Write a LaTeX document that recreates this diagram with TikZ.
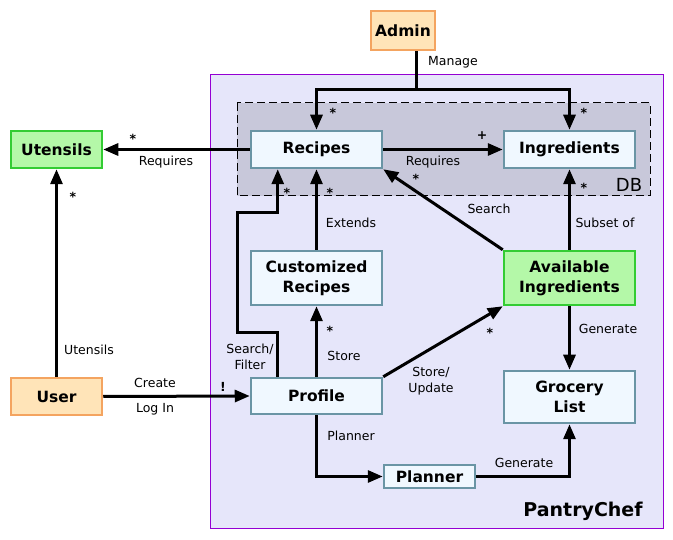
\documentclass[tikz,border=0pt]{standalone}
\usepackage{fontspec}
\setmainfont{DejaVu Sans}
\usetikzlibrary{arrows.meta,positioning,calc}
\definecolor{orfill}{HTML}{FFE4B8}
\definecolor{ordraw}{HTML}{F4A460}
\definecolor{grfill}{HTML}{B4F8A8}
\definecolor{grdraw}{HTML}{33CC33}
\definecolor{blfill}{HTML}{F0F8FF}
\definecolor{bldraw}{HTML}{6A95A5}
\definecolor{dbfill}{HTML}{C8C8DA}
\definecolor{clfill}{HTML}{E6E6FA}
\definecolor{cldraw}{HTML}{9400D3}
\tikzset{
  box/.style={draw, line width=2.5pt, inner sep=0pt, align=center,
    font=\fontsize{15.5}{20}\selectfont\bfseries},
  orbox/.style={box, fill=orfill, draw=ordraw},
  grbox/.style={box, fill=grfill, draw=grdraw},
  blbox/.style={box, fill=blfill, draw=bldraw},
  edge/.style={line width=3pt, -{Triangle[length=15pt,width=12pt]}},
  lbl/.style={font=\fontsize{12.5}{15.5}\selectfont, align=center, inner sep=0pt},
  mult/.style={font=\fontsize{12.5}{14}\selectfont\bfseries, inner sep=0pt},
}
\begin{document}
\begin{tikzpicture}[x=1pt,y=-1pt]
\useasboundingbox (0,0) rectangle (673,540);
% clusters
\draw[fill=clfill, draw=cldraw, line width=1pt] (210,75) rectangle (663,528);
\draw[fill=dbfill, draw=black, line width=1pt, dash pattern=on 8pt off 4pt] (237,103) rectangle (650,196);
\node[font=\fontsize{19}{22}\selectfont\bfseries, anchor=center] (pc) at (583,511) {PantryChef};
\node[font=\fontsize{18}{20}\selectfont, anchor=center] (db) at (629,185) {DB};
% nodes
\node[orbox, minimum width=64pt, minimum height=39pt] (admin) at (403,30.5) {Admin};
\node[grbox, minimum width=91pt, minimum height=37pt] (utensils) at (56.5,149.5) {Utensils};
\node[blbox, minimum width=131pt, minimum height=37pt] (recipes) at (316.5,149.5) {Recipes};
\node[blbox, minimum width=131pt, minimum height=37pt] (ingr) at (569.5,149.5) {Ingredients};
\node[blbox, minimum width=131pt, minimum height=54pt] (cust) at (316.5,278) {Customized\\Recipes};
\node[grbox, minimum width=131pt, minimum height=54pt] (avail) at (569.5,278) {Available\\Ingredients};
\node[orbox, minimum width=91pt, minimum height=37pt] (user) at (56.5,396.5) {User};
\node[blbox, minimum width=131pt, minimum height=36pt] (profile) at (316.5,396) {Profile};
\node[blbox, minimum width=131pt, minimum height=52pt] (grocery) at (569.5,397) {Grocery\\List};
\node[blbox, minimum width=91pt, minimum height=23pt] (planner) at (429.5,476.5) {Planner};
% edges
\coordinate (mj) at (416,90);
\draw[line width=3pt] (admin.south -| mj) -- (mj);
\draw[edge] (mj) -| (recipes.north);
\draw[edge] (mj) -| (ingr.north);
\draw[edge] (recipes.west) -- (utensils.east);
\draw[edge] (recipes.east) -- (ingr.west);
\draw[edge] (avail.north west) -- (recipes.south east);
\draw[edge] (avail.north) -- (ingr.south);
\draw[edge] (cust.north) -- (recipes.south);
\draw[edge] ([xshift=28pt]profile.north west) -- ++(0,-44) -- ++(-40,0) -- ++(0,-120) -- ++(40,0) -- ([xshift=28pt]recipes.south west);
\draw[edge] (profile.north) -- (cust.south);
\draw[edge] (profile.north east) -- (avail.south west);
\draw[edge] (user.east) -- (profile.west);
\draw[edge] (user.north) -- (utensils.south);
\draw[edge] (avail.south) -- (grocery.north);
\draw[edge] (profile.south) |- (planner.west);
\draw[edge] (planner.east) -| (grocery.south);
% labels
\node[lbl] (l1) at (453,62) {Manage};
\node[mult] (m1) at (333,113) {*};
\node[mult] (m2) at (584,113) {*};
\node[mult] (m3) at (133,139) {*};
\node[lbl] (l2) at (166,162) {Requires};
\node[mult] (m4) at (482,136) {+};
\node[lbl] (l3) at (433,162) {Requires};
\node[mult] (m5) at (416,179) {*};
\node[lbl] (l4) at (489,209) {Search};
\node[mult] (m6) at (584,188) {*};
\node[lbl] (l5) at (605,223) {Subset of};
\node[mult] (m7) at (330,193) {*};
\node[mult] (m8) at (287,193) {*};
\node[lbl] (l6) at (351,223) {Extends};
\node[lbl] (l7) at (250,357) {Search/\\Filter};
\node[mult] (m9) at (330,331) {*};
\node[lbl] (l8) at (344,356) {Store};
\node[mult] (m10) at (490,333) {*};
\node[lbl] (l9) at (431,381) {Store/\\Update};
\node[lbl] (l10) at (155,383) {Create};
\node[lbl] (l11) at (155,409) {Log In};
\node[mult] (m11) at (223,387) {!};
\node[mult] (m12) at (73,197) {*};
\node[lbl] (l12) at (89,350) {Utensils};
\node[lbl] (l13) at (608,329) {Generate};
\node[lbl] (l14) at (351,436) {Planner};
\node[lbl] (l15) at (524,463) {Generate};
\end{tikzpicture}
\end{document}
